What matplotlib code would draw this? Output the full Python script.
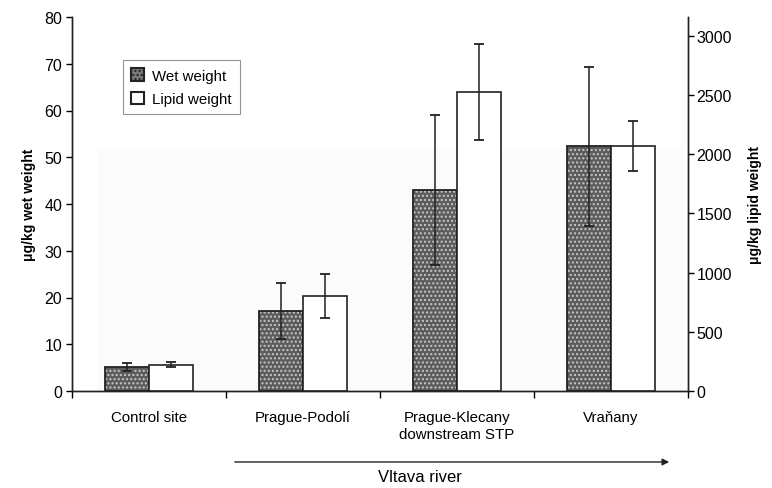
import numpy as np
import matplotlib
matplotlib.use('Agg')
import matplotlib.pyplot as plt
from matplotlib.patches import Rectangle, Patch, FancyArrowPatch

plt.rcParams['font.family'] = ['Liberation Sans', 'DejaVu Sans']

# data
sites = ['Control site', 'Prague-Podolí', 'Prague-Klecany\ndownstream STP', 'Vraňany']
wet = [5.1, 17.2, 43.0, 52.3]          # ug/kg wet weight
wet_err = [0.8, 6.0, 16.0, 17.0]
lipid = [222, 800, 2524, 2070]         # ug/kg lipid weight
lipid_err = [23, 186, 405, 212]

fig = plt.figure(figsize=(7.72, 4.89), dpi=100)
ax = fig.add_axes([72 / 772, 1 - 392 / 489, 616 / 772, 374 / 489])
ax2 = ax.twinx()

x = np.arange(len(sites))
w = 0.284

# very faint background band seen in the reference
ax.add_patch(Rectangle((-0.34, 0), 3.8, 52, facecolor='#fbfbfb', edgecolor='none', zorder=0))

# wet weight bars: checkered gray
ax.bar(x - w / 2, wet, w, facecolor='#5c5c5c', edgecolor='#c8c8c8', hatch='....', linewidth=0, zorder=2)
ax.bar(x - w / 2, wet, w, facecolor='none', edgecolor='#222222', linewidth=1.3, zorder=3)
ax.errorbar(x - w / 2, wet, yerr=wet_err, fmt='none', ecolor='#222222', elinewidth=1.1,
            capsize=3.8, capthick=1.3, zorder=4)

# lipid weight bars on right axis
ax2.bar(x + w / 2, lipid, w, facecolor='white', edgecolor='#222222', linewidth=1.2, zorder=2)
ax2.errorbar(x + w / 2, lipid, yerr=lipid_err, fmt='none', ecolor='#222222', elinewidth=1.1,
             capsize=3.8, capthick=1.3, zorder=4)

ax.set_xlim(-0.5, 3.5)
ax.set_ylim(0, 80)
ax2.set_ylim(0, 3160)
ax.set_yticks(np.arange(0, 81, 10))
ax2.set_yticks(np.arange(0, 3001, 500))

ax.set_xticks(x)
ax.set_xticklabels(sites, fontsize=10.8)
ax.set_xticks(np.arange(-0.5, 3.6, 1), minor=True)
ax.tick_params(axis='x', which='major', length=0, pad=14)
ax.tick_params(axis='x', which='minor', length=5, direction='out', width=1)
ax.tick_params(axis='y', labelsize=11.5, length=4, width=1, pad=3)
ax2.tick_params(axis='y', labelsize=11.5, length=4, width=1, pad=2)

for a in (ax, ax2):
    a.spines['top'].set_visible(False)
    for s in ('left', 'right', 'bottom'):
        a.spines[s].set_linewidth(1.0)
        a.spines[s].set_color('#222222')

ax.set_ylabel('μg/kg wet weight', fontsize=10, fontweight='bold', labelpad=6)
ax2.set_ylabel('μg/kg lipid weight', fontsize=10, fontweight='bold', labelpad=12)

# legend
handles = [Patch(facecolor='#7a7a7a', edgecolor='#222222', hatch='....', linewidth=1.5, label='Wet weight'),
           Patch(facecolor='white', edgecolor='#222222', linewidth=1.5, label='Lipid weight')]
leg = ax.legend(handles=handles, loc='upper left', bbox_to_anchor=(0.07, 0.905), fontsize=10.8,
                frameon=True, fancybox=False, edgecolor='#777777', handlelength=0.9, handleheight=0.9,
                borderpad=0.55, labelspacing=0.6, handletextpad=0.5)
leg.get_frame().set_linewidth(0.8)

# river arrow
fig.add_artist(FancyArrowPatch((232 / 772, 1 - 463 / 489), (672 / 772, 1 - 463 / 489),
                               transform=fig.transFigure, arrowstyle='-|>',
                               mutation_scale=10, color='#222222', linewidth=1.0))
fig.text(420 / 772, 1 - 478 / 489, 'Vltava river', ha='center', va='center', fontsize=12)

fig.savefig('out.png', dpi=100)
